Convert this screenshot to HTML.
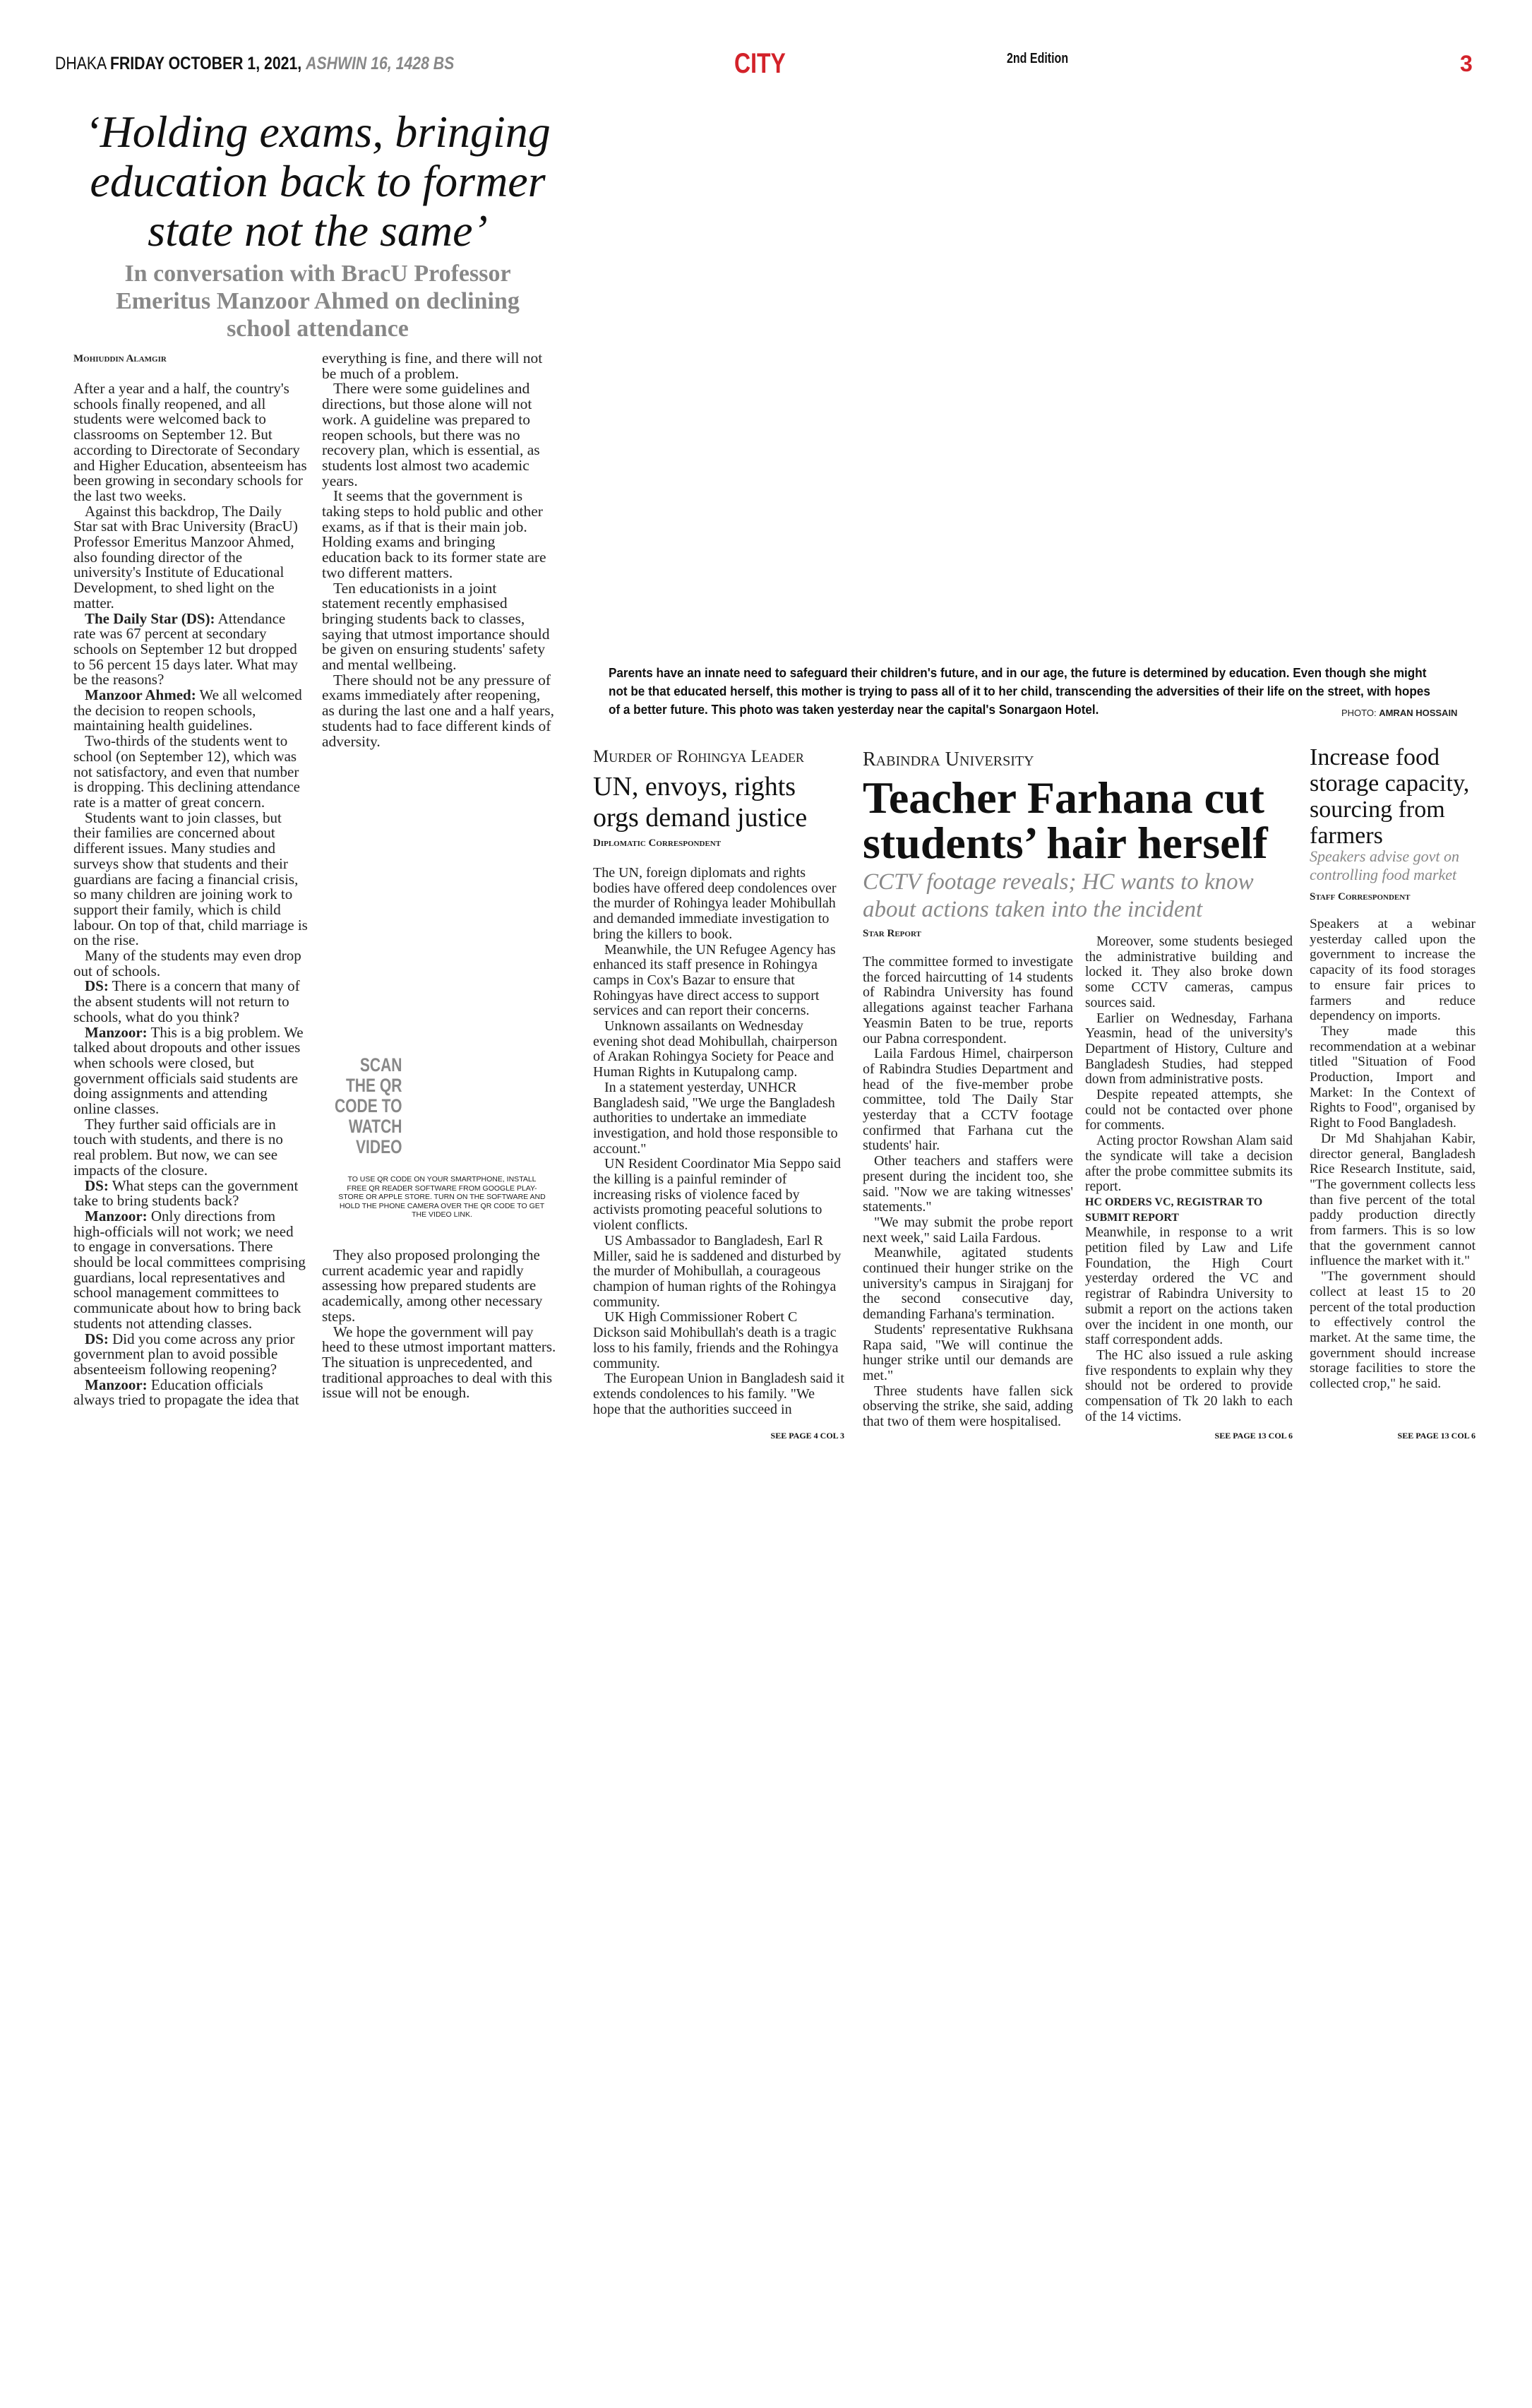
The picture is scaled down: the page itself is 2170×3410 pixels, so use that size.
<!DOCTYPE html>
<html><head><meta charset="utf-8">
<style>
*{margin:0;padding:0;box-sizing:border-box}
body{width:2170px;height:3410px;background:#fff;position:relative;overflow:hidden;font-family:"Liberation Serif",serif;color:#111}
.a{position:absolute}
.hd{font-family:"Liberation Sans",sans-serif;font-size:25px;transform:scaleX(.85);transform-origin:left top;white-space:nowrap}
.body{font-size:21px;line-height:21.7px;color:#222}
.b2{font-size:20px}
.b3{font-size:19.5px}
.b4{font-size:19.4px}
.body p{text-indent:16px}
.body p.ni{text-indent:0}
.j{text-align:justify}
.sc{font-variant:small-caps;font-size:15px;font-weight:bold;color:#222}
.see{font-size:12px;font-weight:bold;text-align:right;font-family:"Liberation Serif",serif}
b{font-weight:bold}
</style></head><body>

<div class="a hd" style="left:78px;top:76px">DHAKA <b>FRIDAY OCTOBER 1, 2021,</b> <i style="color:#888;font-weight:bold">ASHWIN 16, 1428 BS</i></div>
<div class="a" style="left:1040px;top:68px;font-family:'Liberation Sans',sans-serif;font-weight:bold;font-size:40px;color:#d3222a;transform:scaleX(.8);transform-origin:left top">CITY</div>
<div class="a" style="left:1426px;top:72px;font-family:'Liberation Sans',sans-serif;font-weight:bold;font-size:20px;transform:scaleX(.8);transform-origin:left top">2nd Edition</div>
<div class="a" style="left:2068px;top:72px;font-family:'Liberation Sans',sans-serif;font-weight:bold;font-size:32px;color:#d3222a">3</div>

<div class="a" style="left:90px;top:152px;width:720px;text-align:center;font-style:italic;font-size:64px;line-height:70px;color:#111;white-space:nowrap">‘Holding exams, bringing<br>education back to former<br>state not the same’</div>
<div class="a" style="left:90px;top:368px;width:720px;text-align:center;font-size:34px;line-height:39px;color:#888;font-weight:bold;white-space:nowrap">In conversation with BracU Professor<br>Emeritus Manzoor Ahmed on declining<br>school attendance</div>

<div class="a sc" style="left:104px;top:500px">Mohiuddin Alamgir</div>

<div class="a body" style="left:104px;top:540px;width:332px">
<p class="ni">After a year and a half, the country's schools finally reopened, and all students were welcomed back to classrooms on September 12. But according to Directorate of Secondary and Higher Education, absenteeism has been growing in secondary schools for the last two weeks.</p>
<p>Against this backdrop, The Daily Star sat with Brac University (BracU) Professor Emeritus Manzoor Ahmed, also founding director of the university's Institute of Educational Development, to shed light on the matter.</p>
<p><b>The Daily Star (DS):</b> Attendance rate was 67 percent at secondary schools on September 12 but dropped to 56 percent 15 days later. What may be the reasons?</p>
<p><b>Manzoor Ahmed:</b> We all welcomed the decision to reopen schools, maintaining health guidelines.</p>
<p>Two-thirds of the students went to school (on September 12), which was not satisfactory, and even that number is dropping. This declining attendance rate is a matter of great concern.</p>
<p>Students want to join classes, but their families are concerned about different issues. Many studies and surveys show that students and their guardians are facing a financial crisis, so many children are joining work to support their family, which is child labour. On top of that, child marriage is on the rise.</p>
<p>Many of the students may even drop out of schools.</p>
<p><b>DS:</b> There is a concern that many of the absent students will not return to schools, what do you think?</p>
<p><b>Manzoor:</b> This is a big problem. We talked about dropouts and other issues when schools were closed, but government officials said students are doing assignments and attending online classes.</p>
<p>They further said officials are in touch with students, and there is no real problem. But now, we can see impacts of the closure.</p>
<p><b>DS:</b> What steps can the government take to bring students back?</p>
<p><b>Manzoor:</b> Only directions from high-officials will not work; we need to engage in conversations. There should be local committees comprising guardians, local representatives and school management committees to communicate about how to bring back students not attending classes.</p>
<p><b>DS:</b> Did you come across any prior government plan to avoid possible absenteeism following reopening?</p>
<p><b>Manzoor:</b> Education officials always tried to propagate the idea that</p>
</div>

<div class="a body" style="left:456px;top:497px;width:332px;font-size:21.5px">
<p class="ni">everything is fine, and there will not be much of a problem.</p>
<p>There were some guidelines and directions, but those alone will not work. A guideline was prepared to reopen schools, but there was no recovery plan, which is essential, as students lost almost two academic years.</p>
<p>It seems that the government is taking steps to hold public and other exams, as if that is their main job. Holding exams and bringing education back to its former state are two different matters.</p>
<p>Ten educationists in a joint statement recently emphasised bringing students back to classes, saying that utmost importance should be given on ensuring students' safety and mental wellbeing.</p>
<p>There should not be any pressure of exams immediately after reopening, as during the last one and a half years, students had to face different kinds of adversity.</p>
</div>

<div class="a" style="left:440px;top:1494px;width:130px;text-align:right;font-family:'Liberation Sans',sans-serif;font-weight:bold;font-size:27px;line-height:29px;color:#888;white-space:nowrap"><div style="display:inline-block;transform:scaleX(.78);transform-origin:right top">SCAN<br>THE QR<br>CODE TO<br>WATCH<br>VIDEO</div></div>
<div class="a" style="left:478px;top:1664px;width:296px;text-align:center;font-family:'Liberation Sans',sans-serif;font-size:10.5px;line-height:12.5px;color:#222">TO USE QR CODE ON YOUR SMARTPHONE, INSTALL FREE QR READER SOFTWARE FROM GOOGLE PLAY-STORE OR APPLE STORE. TURN ON THE SOFTWARE AND HOLD THE PHONE CAMERA OVER THE QR CODE TO GET THE VIDEO LINK.</div>

<div class="a body" style="left:456px;top:1767px;width:332px">
<p>They also proposed prolonging the current academic year and rapidly assessing how prepared students are academically, among other necessary steps.</p>
<p>We hope the government will pay heed to these utmost important matters. The situation is unprecedented, and traditional approaches to deal with this issue will not be enough.</p>
</div>

<div class="a" style="left:862px;top:940px;font-family:'Liberation Sans',sans-serif;font-weight:bold;font-size:18.5px;line-height:26px;color:#111;transform:scaleX(.925);transform-origin:left top;white-space:nowrap">Parents have an innate need to safeguard their children's future, and in our age, the future is determined by education. Even though she might<br>not be that educated herself, this mother is trying to pass all of it to her child, transcending the adversities of their life on the street, with hopes<br>of a better future. This photo was taken yesterday near the capital's Sonargaon Hotel.</div>
<div class="a" style="left:1900px;top:1002px;font-family:'Liberation Sans',sans-serif;font-size:13px;color:#222;white-space:nowrap">PHOTO: <b>AMRAN HOSSAIN</b></div>

<!-- Col A -->
<div class="a" style="left:840px;top:1058px;font-size:25px;font-variant:small-caps;white-space:nowrap;color:#222">Murder of Rohingya Leader</div>
<div class="a" style="left:840px;top:1092px;width:370px;font-size:38px;line-height:44px;color:#111;white-space:nowrap">UN, envoys, rights<br>orgs demand justice</div>
<div class="a sc" style="left:840px;top:1186px">Diplomatic Correspondent</div>
<div class="a body b2" style="left:840px;top:1226px;width:356px">
<p class="ni">The UN, foreign diplomats and rights bodies have offered deep condolences over the murder of Rohingya leader Mohibullah and demanded immediate investigation to bring the killers to book.</p>
<p>Meanwhile, the UN Refugee Agency has enhanced its staff presence in Rohingya camps in Cox's Bazar to ensure that Rohingyas have direct access to support services and can report their concerns.</p>
<p>Unknown assailants on Wednesday evening shot dead Mohibullah, chairperson of Arakan Rohingya Society for Peace and Human Rights in Kutupalong camp.</p>
<p>In a statement yesterday, UNHCR Bangladesh said, "We urge the Bangladesh authorities to undertake an immediate investigation, and hold those responsible to account."</p>
<p>UN Resident Coordinator Mia Seppo said the killing is a painful reminder of increasing risks of violence faced by activists promoting peaceful solutions to violent conflicts.</p>
<p>US Ambassador to Bangladesh, Earl R Miller, said he is saddened and disturbed by the murder of Mohibullah, a courageous champion of human rights of the Rohingya community.</p>
<p>UK High Commissioner Robert C Dickson said Mohibullah's death is a tragic loss to his family, friends and the Rohingya community.</p>
<p>The European Union in Bangladesh said it extends condolences to his family. "We hope that the authorities succeed in</p>
</div>
<div class="a see" style="left:840px;top:2026px;width:356px">SEE PAGE 4 COL 3</div>

<!-- Col B -->
<div class="a" style="left:1222px;top:1060px;font-size:28px;font-variant:small-caps;white-space:nowrap;color:#222">Rabindra University</div>
<div class="a" style="left:1222px;top:1098px;width:640px;font-size:64px;line-height:64px;font-weight:bold;color:#111;white-space:nowrap">Teacher Farhana cut<br>students’ hair herself</div>
<div class="a" style="left:1222px;top:1230px;width:620px;font-size:33px;line-height:39px;font-style:italic;color:#888">CCTV footage reveals; HC wants to know about actions taken into the incident</div>
<div class="a sc" style="left:1222px;top:1314px">Star Report</div>
<div class="a body b2 j" style="left:1222px;top:1352px;width:298px">
<p class="ni">The committee formed to investigate the forced haircutting of 14 students of Rabindra University has found allegations against teacher Farhana Yeasmin Baten to be true, reports our Pabna correspondent.</p>
<p>Laila Fardous Himel, chairperson of Rabindra Studies Department and head of the five-member probe committee, told The Daily Star yesterday that a CCTV footage confirmed that Farhana cut the students' hair.</p>
<p>Other teachers and staffers were present during the incident too, she said. "Now we are taking witnesses' statements."</p>
<p>"We may submit the probe report next week," said Laila Fardous.</p>
<p>Meanwhile, agitated students continued their hunger strike on the university's campus in Sirajganj for the second consecutive day, demanding Farhana's termination.</p>
<p>Students' representative Rukhsana Rapa said, "We will continue the hunger strike until our demands are met."</p>
<p>Three students have fallen sick observing the strike, she said, adding that two of them were hospitalised.</p>
</div>
<div class="a body b3 j" style="left:1537px;top:1323px;width:294px">
<p>Moreover, some students besieged the administrative building and locked it. They also broke down some CCTV cameras, campus sources said.</p>
<p>Earlier on Wednesday, Farhana Yeasmin, head of the university's Department of History, Culture and Bangladesh Studies, had stepped down from administrative posts.</p>
<p>Despite repeated attempts, she could not be contacted over phone for comments.</p>
<p>Acting proctor Rowshan Alam said the syndicate will take a decision after the probe committee submits its report.</p>
<p class="ni" style="font-weight:bold;font-size:16px;text-align:left">HC ORDERS VC, REGISTRAR TO SUBMIT REPORT</p>
<p class="ni">Meanwhile, in response to a writ petition filed by Law and Life Foundation, the High Court yesterday ordered the VC and registrar of Rabindra University to submit a report on the actions taken over the incident in one month, our staff correspondent adds.</p>
<p>The HC also issued a rule asking five respondents to explain why they should not be ordered to provide compensation of Tk 20 lakh to each of the 14 victims.</p>
</div>
<div class="a see" style="left:1537px;top:2026px;width:294px">SEE PAGE 13 COL 6</div>

<!-- Col C -->
<div class="a" style="left:1855px;top:1054px;width:240px;font-size:34px;line-height:37px;color:#111">Increase food storage capacity, sourcing from farmers</div>
<div class="a" style="left:1855px;top:1200px;width:240px;font-size:22px;line-height:26px;font-style:italic;color:#888">Speakers advise govt on controlling food market</div>
<div class="a sc" style="left:1855px;top:1262px">Staff Correspondent</div>
<div class="a body b4 j" style="left:1855px;top:1298px;width:235px">
<p class="ni">Speakers at a webinar yesterday called upon the government to increase the capacity of its food storages to ensure fair prices to farmers and reduce dependency on imports.</p>
<p>They made this recommendation at a webinar titled "Situation of Food Production, Import and Market: In the Context of Rights to Food", organised by Right to Food Bangladesh.</p>
<p>Dr Md Shahjahan Kabir, director general, Bangladesh Rice Research Institute, said, "The government collects less than five percent of the total paddy production directly from farmers. This is so low that the government cannot influence the market with it."</p>
<p>"The government should collect at least 15 to 20 percent of the total production to effectively control the market. At the same time, the government should increase storage facilities to store the collected crop," he said.</p>
</div>
<div class="a see" style="left:1855px;top:2026px;width:235px">SEE PAGE 13 COL 6</div>

</body></html>
